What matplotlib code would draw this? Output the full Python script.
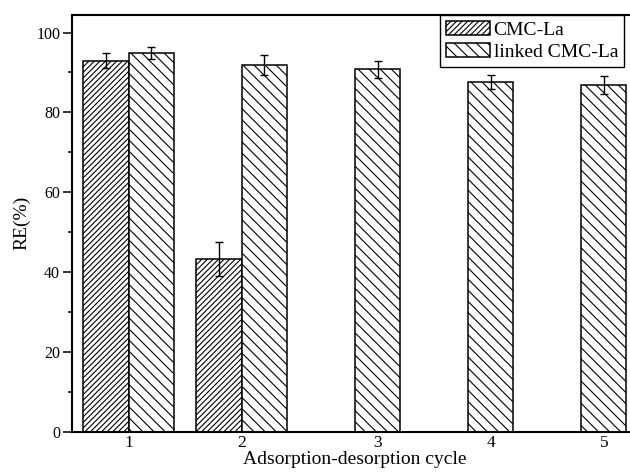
# RE(%) of CMC-La vs linked CMC-La over repeated adsorption-desorption cycles
import numpy as np
import matplotlib; matplotlib.use("Agg"); import matplotlib.pyplot as plt

cycles = [1, 2, 3, 4, 5]
cmc_la = [93.0, 43.3, np.nan, np.nan, np.nan]
cmc_la_err = [2.0, 4.3, np.nan, np.nan, np.nan]
linked = [94.8, 91.9, 90.8, 87.6, 86.8]
linked_err = [1.5, 2.5, 2.2, 1.8, 2.2]

plt.rcParams["font.family"] = ["Liberation Serif", "DejaVu Serif"]
plt.rcParams["hatch.linewidth"] = 0.8

fig = plt.figure(figsize=(6.3, 4.76), dpi=100)
ax = fig.add_axes([0.1143, 0.0924, 0.898, 0.877])

x = np.array(cycles, dtype=float); w = 0.4
have = ~np.isnan(cmc_la)
ekw = dict(ecolor="black", elinewidth=1.0, capsize=3.2, capthick=1.0)
ax.bar(x[have] - w/2, np.array(cmc_la)[have], w, yerr=np.array(cmc_la_err)[have], color="white",
       edgecolor="black", linewidth=1.1, hatch="//////", label="CMC-La", error_kw=ekw)
ax.bar(x + w/2, linked, w, yerr=linked_err, color="white", edgecolor="black",
       linewidth=1.1, hatch="\\\\\\", label="linked CMC-La", error_kw=ekw)

# tick under the pair when both bars exist, under the lone bar otherwise
ticks = np.where(have, x, x + w/2)
ax.set_xticks(ticks); ax.set_xticklabels([str(c) for c in cycles])
ax.set_xlim(0.5, 5.5); ax.set_ylim(0, 104.5)
ax.set_yticks(np.arange(0, 101, 20)); ax.set_yticks(np.arange(10, 101, 20), minor=True)
ax.tick_params(axis="x", length=0, pad=2, labelsize=12.5)
ax.tick_params(axis="y", which="major", direction="out", length=6.5, width=1.1, pad=2, labelsize=11.5)
ax.tick_params(axis="y", which="minor", direction="out", length=3.2, width=1.1)
for s in ax.spines.values(): s.set_linewidth(1.5)

ax.set_xlabel("Adsorption-desorption cycle", fontsize=14, labelpad=0)
ax.set_ylabel("RE(%)", fontsize=14, labelpad=4)

leg = ax.legend(loc="upper right", bbox_to_anchor=(624/630, 1 - 15/476), bbox_transform=fig.transFigure,
                fontsize=14, fancybox=False, framealpha=1, edgecolor="black", borderaxespad=0,
                handlelength=2.26, handleheight=0.77, handletextpad=0.2, borderpad=0.3, labelspacing=0.2)
leg.get_frame().set_linewidth(1.0)

fig.savefig("out.png", dpi=100)
